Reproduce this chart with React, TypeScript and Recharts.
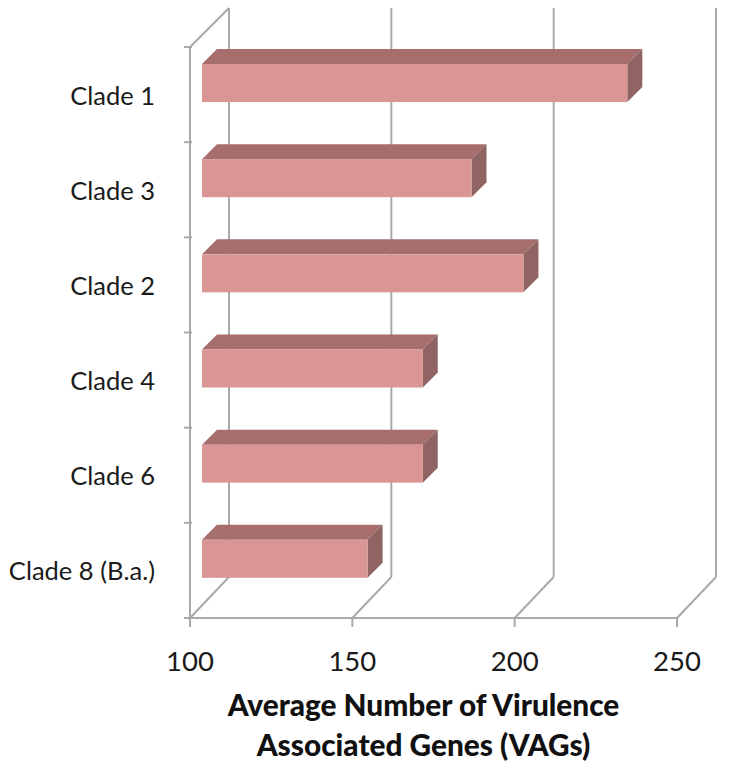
import React from "react";
import { BarChart, Bar, XAxis, YAxis, CartesianGrid, Label } from "recharts";

const clades = ["Clade 1", "Clade 3", "Clade 2", "Clade 4", "Clade 6", "Clade 8 (B.a.)"];
const vagCounts = [231, 183, 199, 168, 168, 151];
const xTicks = [100, 150, 200, 250];
const titleLines = ["Average Number of Virulence", "Associated Genes (VAGs)"];

const data = clades.map((clade, i) => ({ clade, vags: vagCounts[i] }));

const FONT = "Lato, 'Open Sans', sans-serif";
const AXIS = "#a9a9a9";

// depth of the fake 3D box, and how far the bars sit in from the front plane
const WALL = 39;
const INSET = 12;
const BAR_DEPTH = 15;

function Box3D({ x, y, width, height }: any) {
    const left = x + INSET;
    const right = x + width + INSET;
    const top = y - INSET;
    const bottom = top + height;
    const d = BAR_DEPTH;
    return (
        <g>
            <polygon points={`${left},${top} ${left + d},${top - d} ${right + d},${top - d} ${right},${top}`} fill="#a66f6e" />
            <polygon points={`${right},${top} ${right + d},${top - d} ${right + d},${bottom - d} ${right},${bottom}`} fill="#8f6462" />
            <rect x={left} y={top} width={right - left} height={height} fill="#d99694" />
        </g>
    );
}

// each grid line becomes a back wall line plus its diagonal on the floor
function WallLine({ x1, y1, y2, index }: any) {
    const backX = x1 + WALL;
    return (
        <g stroke={AXIS} strokeWidth={2} fill="none">
            <line x1={backX} y1={y1 - WALL} x2={backX} y2={y2 - WALL - 2} />
            <line x1={x1} y1={y2} x2={backX} y2={y2 - WALL - 2} />
            {index === 0 && <line x1={x1} y1={y1} x2={backX} y2={y1 - WALL} />}
        </g>
    );
}

function CladeTick({ x, y, payload, index }: any) {
    const half = payload.offset ?? 47.6;
    return (
        <g>
            <line x1={x + 2} x2={x + 10} y1={y - half} y2={y - half} stroke={AXIS} strokeWidth={2} />
            {index === clades.length - 1 && (
                <line x1={x + 2} x2={x + 10} y1={y + half} y2={y + half} stroke={AXIS} strokeWidth={2} />
            )}
            <text x={x - 27} y={y + 10} textAnchor="end" fontFamily={FONT} fontSize={25.5} fill="#1a1a1a">
                {payload.value}
            </text>
        </g>
    );
}

function AxisTitle({ viewBox }: any) {
    const cx = viewBox.x + viewBox.width / 2 - 10;
    return (
        <text textAnchor="middle" fontFamily={FONT} fontSize={29.8} fontWeight={900} fill="#111">
            <tspan x={cx} y={716}>{titleLines[0]}</tspan>
            <tspan x={cx} y={756}>{titleLines[1]}</tspan>
        </text>
    );
}

export default function App() {
    return (
        <div style={{ position: "absolute", left: 0, top: 0 }}>
            <BarChart
                width={731}
                height={770}
                data={data}
                layout="vertical"
                margin={{ top: 47, right: 54, left: 0, bottom: 0 }}
                barSize={38}
            >
                <CartesianGrid horizontal={false} vertical={(props: any) => <WallLine key={props.key} {...props} />} />
                <XAxis
                    type="number"
                    dataKey="vags"
                    domain={[100, 250]}
                    ticks={xTicks}
                    height={152}
                    tickSize={9}
                    tickMargin={24}
                    interval={0}
                    allowDataOverflow
                    axisLine={{ stroke: AXIS, strokeWidth: 2 }}
                    tickLine={{ stroke: AXIS, strokeWidth: 2 }}
                    tick={{ fontFamily: FONT, fontSize: 27.5, fill: "#1a1a1a" }}
                >
                    <Label content={<AxisTitle />} />
                </XAxis>
                <YAxis
                    type="category"
                    dataKey="clade"
                    width={190}
                    interval={0}
                    tickLine={false}
                    axisLine={{ stroke: AXIS, strokeWidth: 2 }}
                    tick={<CladeTick />}
                />
                <Bar dataKey="vags" shape={<Box3D />} isAnimationActive={false} />
            </BarChart>
        </div>
    );
}
